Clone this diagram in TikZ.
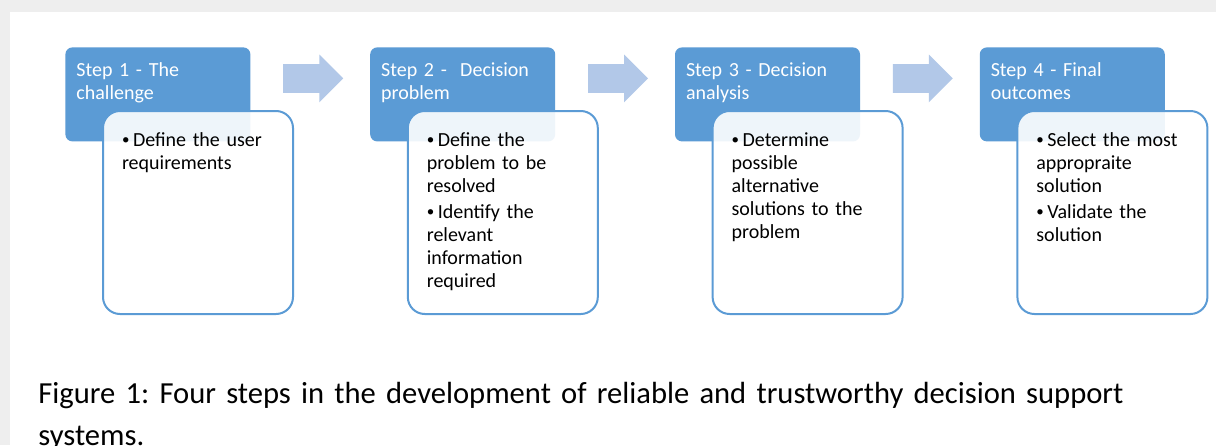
\documentclass[tikz,border=0pt]{standalone}
\usepackage{fontspec}
\setmainfont{Carlito}
\usepackage{tikz}
\usetikzlibrary{calc,positioning,shapes.arrows}
\definecolor{hdrblue}{RGB}{91,155,213}
\definecolor{arrowblue}{RGB}{178,200,232}
\definecolor{pagegray}{RGB}{238,238,238}
\frenchspacing
\newcommand{\stepitem}[1]{\hangindent=5.5pt\hangafter=1\noindent
  \makebox[5.5pt][l]{\raisebox{0.6pt}{\fontsize{7.5pt}{7.5pt}\selectfont\textbullet}}#1\par}
\tikzset{
  hdrbox/.style={fill=hdrblue, rounded corners=3.5pt, anchor=north west, align=left,
    text=white, text width=81.5pt, inner xsep=5.5pt, inner ysep=4pt,
    text height=10.5pt, text depth=28.5pt, font=\fontsize{10pt}{11.5pt}\selectfont},
  bodybox/.style={draw=hdrblue, line width=1pt, fill=white, fill opacity=0.9, text opacity=1,
    rounded corners=8.5pt, anchor=north west, align=left, text width=76pt,
    inner xsep=9.5pt, inner ysep=4pt, text height=13.5pt, text depth=80pt,
    font=\fontsize{10pt}{11.5pt}\selectfont},
  steparrow/.style={single arrow, fill=arrowblue, draw=none, inner sep=7pt,
    minimum height=30pt, minimum width=23.5pt, single arrow head extend=4.75pt},
  caption/.style={anchor=base west, align=left, text width=590pt, inner sep=0pt,
    font=\fontsize{15.3pt}{21pt}\selectfont}
}
\begin{document}
\begin{tikzpicture}[node distance=59.5pt]
  \useasboundingbox (0,0) rectangle (608pt,-222.5pt);
  % page
  \fill[pagegray] (0,0) rectangle (608pt,-222.5pt);
  \fill[white] (5pt,-6pt) rectangle (608pt,-222.5pt);

  % Headers
  \node[hdrbox] (hdr1) at (32.5pt,-23.5pt) {Step 1 - The\\challenge};
  \node[hdrbox, right=of hdr1] (hdr2) {Step 2 - \ Decision\\problem};
  \node[hdrbox, right=of hdr2] (hdr3) {Step 3 - Decision\\analysis};
  \node[hdrbox, right=of hdr3] (hdr4) {Step 4 - Final\\outcomes};

  % Bodies
  \node[bodybox] (body1) at ($(hdr1.north west)+(18.5pt,-31.5pt)$)
    {\stepitem{Define the user\\requirements}};
  \node[bodybox] (body2) at ($(hdr2.north west)+(18.5pt,-31.5pt)$)
    {\stepitem{Define the\\problem to be\\resolved}\vspace{1.5pt}
     \stepitem{Identify the\\relevant\\information\\required}};
  \node[bodybox] (body3) at ($(hdr3.north west)+(18.5pt,-31.5pt)$)
    {\stepitem{Determine\\possible\\alternative\\solutions to the\\problem}};
  \node[bodybox] (body4) at ($(hdr4.north west)+(18.5pt,-31.5pt)$)
    {\stepitem{Select the most\\appropraite\\solution}\vspace{1.5pt}
     \stepitem{Validate the\\solution}};

  % Arrows
  \node[steparrow, right=16pt of hdr1.east, yshift=8pt] (arr1) {};
  \node[steparrow, right=16pt of hdr2.east, yshift=8pt] (arr2) {};
  \node[steparrow, right=16pt of hdr3.east, yshift=8pt] (arr3) {};

  % Caption
  \node[caption] (cap) at (19pt,-201.5pt)
    {Figure 1: Four steps in the development of reliable and trustworthy decision support\\systems.};
\end{tikzpicture}
\end{document}
